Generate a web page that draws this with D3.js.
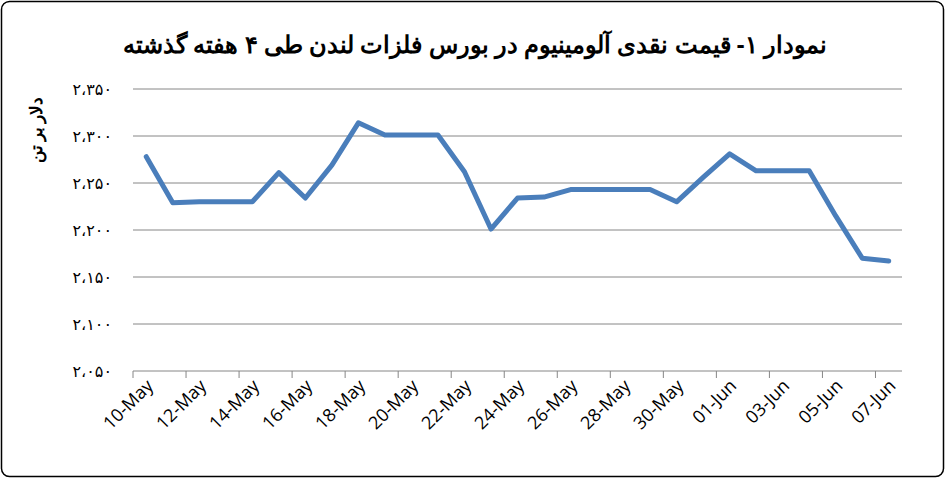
<!DOCTYPE html><html><head><meta charset="utf-8"><script src="https://cdn.jsdelivr.net/npm/d3@7"></script>
<style>body{margin:0;background:#fff}</style></head><body><svg id="c" width="945" height="478"></svg><script>
const dayOffsets=[0,1,2,4,5,6,7,8,9,11,12,13,14,15,16,19,20,21,22,23,25,26,27,28];
const values=[2278,2229,2230,2230,2261,2234,2269,2314,2301,2301,2262,2201,2234,2235,2243,2243,2230,2256,2281,2263,2263,2215,2170,2167];
const yTicks=[2050,2100,2150,2200,2250,2300,2350];
const xLabels=["10-May","12-May","14-May","16-May","18-May","20-May","22-May","24-May","26-May","28-May","30-May","01-Jun","03-Jun","05-Jun","07-Jun"];
const title="نمودار ۱- قیمت نقدی آلومینیوم در بورس فلزات لندن طی ۴ هفته گذشته";
const yTitle="دلار بر تن";
const svg=d3.select("#c");
svg.append("rect").attr("x",1.5).attr("y",1.5).attr("width",942).attr("height",475).attr("rx",8).attr("fill","#fff").attr("stroke","#000").attr("stroke-width",1.5);
const x=d3.scaleLinear().domain([0,29]).range([133,902]);
const y=d3.scaleLinear().domain([2050,2350]).range([371,89]);
const fa=n=>{const s=String(n).replace(/\d/g,d=>"۰۱۲۳۴۵۶۷۸۹"[d]);return s[0]+"،"+s.slice(1);};
svg.append("g").selectAll("line").data(yTicks).join("line").attr("x1",133).attr("x2",902).attr("y1",d=>y(d)).attr("y2",d=>y(d)).attr("stroke","#868686").attr("stroke-width",1);
svg.append("g").selectAll("text").data(yTicks).join("text").attr("x",112).attr("y",d=>y(d)+6).attr("text-anchor","end").attr("font-family","DejaVu Sans").attr("font-size",16).text(fa);
const xa=svg.append("g");
xa.selectAll("line").data(xLabels).join("line").attr("x1",(d,i)=>x(i*2)).attr("x2",(d,i)=>x(i*2)).attr("y1",y(2050)).attr("y2",y(2050)+7).attr("stroke","#868686");
xa.selectAll("text").data(xLabels).join("text").attr("text-anchor","end").attr("font-family","Open Sans").attr("font-size",18)
 .attr("transform",(d,i)=>`translate(${x(i*2+0.5)+8},${y(2050)+16}) rotate(-45)`).text(d=>d);
const pts=dayOffsets.map((d,i)=>[d,values[i]]);
svg.append("path").datum(pts).attr("fill","none").attr("stroke","#4a7ebb").attr("stroke-width",5).attr("stroke-linejoin","round").attr("stroke-linecap","round")
 .attr("d",d3.line().x(d=>x(d[0]+0.5)).y(d=>y(d[1])));
svg.append("text").attr("x",475).attr("y",53).attr("text-anchor","middle").attr("font-family","Noto Sans").attr("font-weight","bold").attr("font-size",24).attr("direction","rtl").text(title);
svg.append("text").attr("transform","translate(42,130) rotate(-90)").attr("text-anchor","middle").attr("font-family","Noto Sans").attr("font-weight","bold").attr("font-size",17).attr("direction","rtl").text(yTitle);
</script></body></html>
